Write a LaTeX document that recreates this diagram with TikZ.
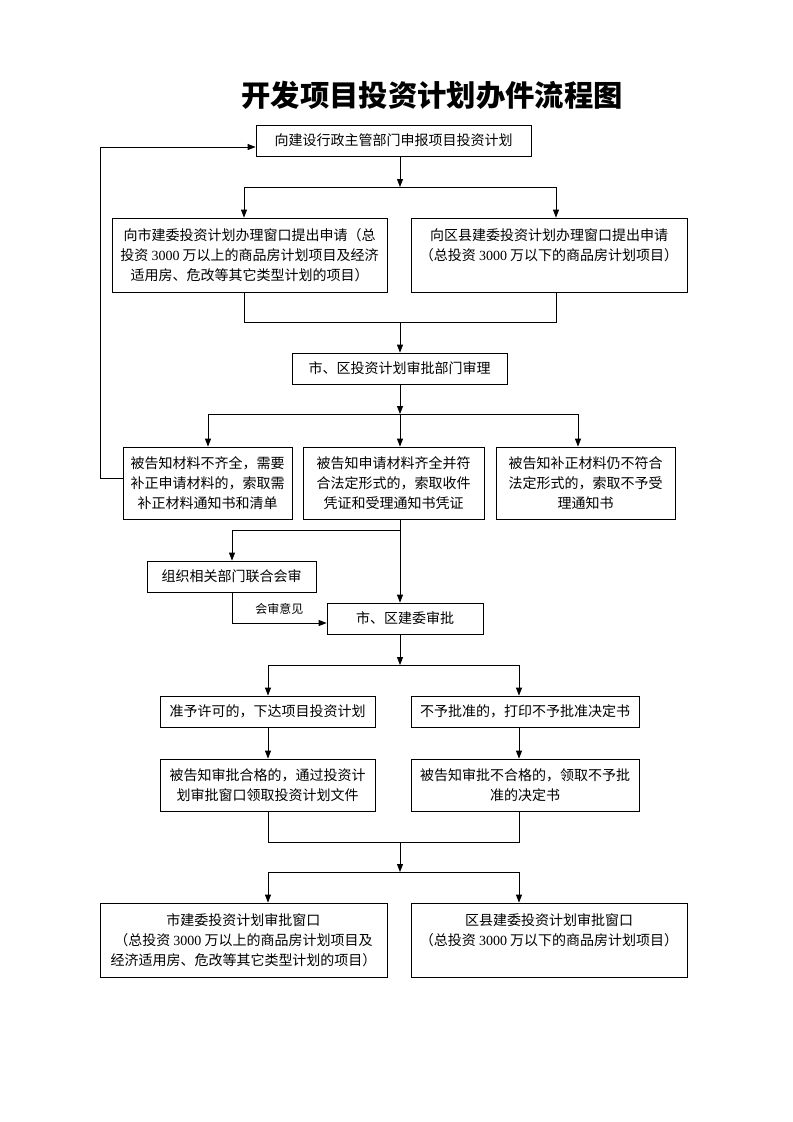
\documentclass[tikz,border=0pt]{standalone}
\usepackage{fontspec}
\setmainfont{Liberation Serif}
\newfontfamily\cjk{Noto Sans CJK SC}
\usetikzlibrary{arrows.meta}
\begin{document}
\begin{tikzpicture}[x=0.75pt, y=-0.75pt,
  box/.style={draw, line width=0.6pt, align=center, inner sep=0pt,
    font=\cjk\fontsize{10.5}{15}\selectfont},
  arr/.style={line width=0.6pt, -{Triangle[length=6pt, width=4.5pt]}},
  ln/.style={line width=0.6pt}]
\useasboundingbox (0,0) rectangle (793,1122);
\node[font=\cjk\bfseries\fontsize{22}{26}\selectfont] (title) at (432,95) {开发项目投资计划办件流程图};
% declare and apply
\node[box, minimum width=206.25pt, minimum height=23.25pt] (apply) at (393.5,140.5) {向建设行政主管部门申报项目投资计划};
\node[box, minimum width=206.25pt, minimum height=55.5pt] (city) at (249.5,255) {向市建委投资计划办理窗口提出申请（总\\投资 {\rmfamily 3000} 万以上的商品房计划项目及经济\\适用房、危改等其它类型计划的项目）};
\node[box, minimum width=207pt, minimum height=55.5pt] (county) at (549,255) {向区县建委投资计划办理窗口提出申请\\（总投资 {\rmfamily 3000} 万以下的商品房计划项目）\\~};
\node[box, minimum width=161.25pt, minimum height=23.25pt] (review) at (399.5,368.5) {市、区投资计划审批部门审理};
% three answers
\node[box, minimum width=126.75pt, minimum height=54pt] (lack) at (207.5,483) {被告知材料不齐全，需要\\补正申请材料的，索取需\\补正材料通知书和清单};
\node[box, minimum width=135.75pt, minimum height=54pt] (accept) at (393.5,483) {被告知申请材料齐全并符\\合法定形式的，索取收件\\凭证和受理通知书凭证};
\node[box, minimum width=134.25pt, minimum height=54pt] (reject) at (585.5,483) {被告知补正材料仍不符合\\法定形式的，索取不予受\\理通知书};
\node[box, minimum width=126.75pt, minimum height=23.25pt] (joint) at (231.5,576.5) {组织相关部门联合会审};
\node[box, minimum width=117pt, minimum height=23.25pt] (approve) at (405,618.5) {市、区建委审批};
% decision
\node[box, minimum width=161.25pt, minimum height=23.25pt] (grant) at (267.5,711.5) {准予许可的，下达项目投资计划};
\node[box, minimum width=171pt, minimum height=23.25pt] (deny) at (525,711.5) {不予批准的，打印不予批准决定书};
\node[box, minimum width=161.25pt, minimum height=39pt] (pass) at (267.5,785) {被告知审批合格的，通过投资计\\划审批窗口领取投资计划文件};
\node[box, minimum width=171pt, minimum height=39pt] (fail) at (525,785) {被告知审批不合格的，领取不予批\\准的决定书};
% windows
\node[box, minimum width=215.25pt, minimum height=55.5pt] (citywin) at (243.5,940) {市建委投资计划审批窗口\\（总投资 {\rmfamily 3000} 万以上的商品房计划项目及\\经济适用房、危改等其它类型计划的项目）};
\node[box, minimum width=207pt, minimum height=55.5pt] (countywin) at (549,940) {区县建委投资计划审批窗口\\（总投资 {\rmfamily 3000} 万以下的商品房计划项目）\\~};
% junctions
\coordinate (j1) at (400,187); \coordinate (j1l) at (244,187); \coordinate (j1r) at (556,187);
\coordinate (j2) at (400,322); \coordinate (j2l) at (244,322); \coordinate (j2r) at (556,322);
\coordinate (j3) at (400,414); \coordinate (j3l) at (208,414); \coordinate (j3r) at (578,414);
\coordinate (j4) at (400,530); \coordinate (j4l) at (232,530);
\coordinate (j5) at (232,623);
\coordinate (j6) at (400,665); \coordinate (j6l) at (268,665); \coordinate (j6r) at (519,665);
\coordinate (j7) at (400,842); \coordinate (j7l) at (268,842); \coordinate (j7r) at (519,842);
\coordinate (j8) at (400,872); \coordinate (j8l) at (268,872); \coordinate (j8r) at (519,872);
\coordinate (fb1) at (100,478); \coordinate (fb2) at (100,147);
% connectors
\draw[arr] (apply.south -| j1) -- (j1);
\draw[ln] (j1l) -- (j1r);
\draw[arr] (j1l) -- (j1l |- city.north);
\draw[arr] (j1r) -- (j1r |- county.north);
\draw[ln] (j2l |- city.south) -- (j2l) -- (j2r) -- (j2r |- county.south);
\draw[arr] (j2) -- (j2 |- review.north);
\draw[arr] (review.south -| j3) -- (j3);
\draw[ln] (j3l) -- (j3r);
\draw[arr] (j3l) -- (j3l |- lack.north);
\draw[arr] (j3) -- (j3 |- accept.north);
\draw[arr] (j3r) -- (j3r |- reject.north);
\draw[arr] (fb1 -| lack.west) -- (fb1) -- (fb2) -- (fb2 -| apply.west);
\draw[arr] (accept.south -| j4) -- (j4 |- approve.north);
\draw[arr] (j4) -- (j4l) -- (j4l |- joint.north);
\draw[arr] (joint.south -| j5) -- (j5) -- node[above=3pt, font=\cjk\fontsize{9}{11}\selectfont] (opinion) {会审意见} (j5 -| approve.west);
\draw[arr] (approve.south -| j6) -- (j6);
\draw[ln] (j6l) -- (j6r);
\draw[arr] (j6l) -- (j6l |- grant.north);
\draw[arr] (j6r) -- (j6r |- deny.north);
\draw[arr] (grant.south -| j6l) -- (j6l |- pass.north);
\draw[arr] (deny.south -| j6r) -- (j6r |- fail.north);
\draw[ln] (j7l |- pass.south) -- (j7l) -- (j7r) -- (j7r |- fail.south);
\draw[arr] (j7) -- (j8);
\draw[ln] (j8l) -- (j8r);
\draw[arr] (j8l) -- (j8l |- citywin.north);
\draw[arr] (j8r) -- (j8r |- countywin.north);
\end{tikzpicture}
\end{document}
